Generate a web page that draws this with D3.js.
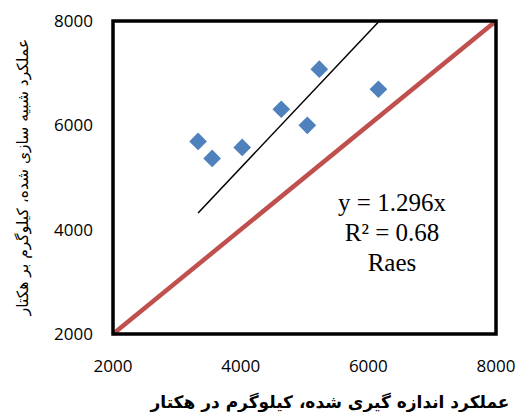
<!DOCTYPE html>
<html>
<head>
<meta charset="utf-8">
<script src="https://cdn.jsdelivr.net/npm/d3@7"></script>
<style>
  body { margin: 0; background: #fff; }
  svg { display: block; }
</style>
</head>
<body>
<svg id="chart" width="518" height="412"></svg>
<script>
var w = 518, h = 412;
var margin = {left: 113, right: 22, top: 21, bottom: 78};

// measured vs simulated yield (kg/ha)
var measured  = [3333, 3553, 4024, 4636, 5044, 5232, 6158];
var simulated = [5692, 5365, 5577, 6308, 6000, 7077, 6692];
var xTicks = [2000, 4000, 6000, 8000];
var yTicks = [2000, 4000, 6000, 8000];
var slope = 1.296;
var eqLines = ["y = 1.296x", "R² = 0.68", "Raes"];
var xTitle = "عملکرد اندازه گیری شده، کیلوگرم در هکتار";
var yTitle = "عملکرد شبیه سازی شده، کیلوگرم بر هکتار";

var svg = d3.select("#chart");

var x = d3.scaleLinear().domain([2000, 8000]).range([margin.left, w - margin.right]);
var y = d3.scaleLinear().domain([2000, 8000]).range([h - margin.bottom, margin.top]);

// 1:1 line
svg.append("line")
  .attr("x1", x(2000)).attr("y1", y(2000))
  .attr("x2", x(8000)).attr("y2", y(8000))
  .style("stroke", "#C0504D")
  .style("stroke-width", 4.5);

// trendline y = 1.296x over the data range, clipped at the top
var tx0 = d3.min(measured);
var tx1 = Math.min(d3.max(measured), 8000 / slope);
svg.append("line")
  .attr("x1", x(tx0)).attr("y1", y(tx0 * slope))
  .attr("x2", x(tx1)).attr("y2", y(tx1 * slope))
  .style("stroke", "black")
  .style("stroke-width", 1.5);

// points
var pts = measured.map(function(m, i){ return {m: m, s: simulated[i]}; });
svg.selectAll("path.pt")
  .data(pts)
  .enter()
  .append("path")
  .attr("class", "pt")
  .attr("d", d3.symbol().type(d3.symbolDiamond2).size(200))
  .attr("transform", function(d){
    return "translate(" + x(d.m) + "," + y(d.s) + ")";
  })
  .style("fill", "#4F81BD");

// plot frame
svg.append("rect")
  .attr("x", x(2000)).attr("y", y(8000))
  .attr("width", x(8000) - x(2000))
  .attr("height", y(2000) - y(8000))
  .style("fill", "none")
  .style("stroke", "black")
  .style("stroke-width", 3.5);

// tick labels
svg.selectAll("text.xt")
  .data(xTicks)
  .enter()
  .append("text")
  .attr("class", "xt")
  .attr("x", function(d){ return x(d); })
  .attr("y", h - margin.bottom + 38)
  .attr("text-anchor", "middle")
  .style("font-family", "'Open Sans', sans-serif")
  .style("font-size", "17px")
  .text(function(d){ return d; });

svg.selectAll("text.yt")
  .data(yTicks)
  .enter()
  .append("text")
  .attr("class", "yt")
  .attr("x", margin.left - 20)
  .attr("y", function(d){ return y(d) + 6; })
  .attr("text-anchor", "end")
  .style("font-family", "'Open Sans', sans-serif")
  .style("font-size", "17px")
  .text(function(d){ return d; });

// equation box text
svg.selectAll("text.eq")
  .data(eqLines)
  .enter()
  .append("text")
  .attr("class", "eq")
  .attr("x", 392)
  .attr("y", function(d, i){ return 211 + i * 30; })
  .attr("text-anchor", "middle")
  .style("font-family", "'Liberation Serif', serif")
  .style("font-size", "25px")
  .text(function(d){ return d; });

// axis titles
svg.append("text")
  .attr("x", 330)
  .attr("y", 408)
  .attr("text-anchor", "middle")
  .attr("direction", "rtl")
  .style("font-family", "'DejaVu Sans', sans-serif")
  .style("font-weight", "bold")
  .style("font-size", "17px")
  .text(xTitle);

svg.append("text")
  .attr("transform", "translate(28," + 177 + ") rotate(-90)")
  .attr("text-anchor", "middle")
  .attr("direction", "rtl")
  .style("font-family", "'DejaVu Sans', sans-serif")
  .style("font-size", "15.5px")
  .text(yTitle);
</script>
</body>
</html>
